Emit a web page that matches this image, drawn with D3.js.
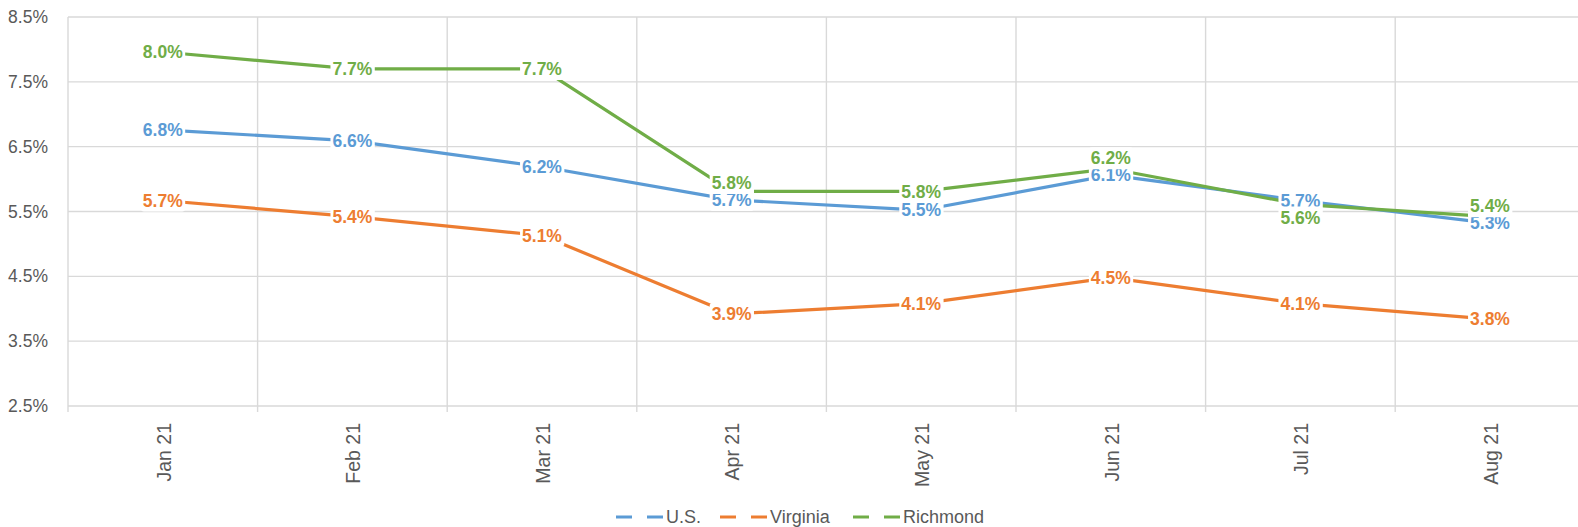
<!DOCTYPE html>
<html>
<head>
<meta charset="utf-8">
<script src="https://cdn.jsdelivr.net/npm/d3@7"></script>
<style>
  html, body { margin: 0; padding: 0; background: #fff; }
  svg { display: block; }
</style>
</head>
<body>
<svg id="chart" width="1578" height="527"></svg>
<script>
const months = ["Jan 21", "Feb 21", "Mar 21", "Apr 21", "May 21", "Jun 21", "Jul 21", "Aug 21"];
const usValues = [6.76, 6.59, 6.19, 5.68, 5.52, 6.06, 5.67, 5.32];
const virginiaValues = [5.67, 5.42, 5.13, 3.92, 4.08, 4.48, 4.08, 3.84];
const richmondValues = [7.96, 7.70, 7.70, 5.81, 5.81, 6.16, 5.61, 5.42];
const seriesNames = ["U.S.", "Virginia", "Richmond"];
const yTicks = [2.5, 3.5, 4.5, 5.5, 6.5, 7.5, 8.5];

(function () {
const colors = ["#5b9bd5", "#ed7d31", "#70ad47"];
const series = [usValues, virginiaValues, richmondValues].map((v, i) => ({ name: seriesNames[i], values: v, color: colors[i] }));

const svg = d3.select("#chart");
const mLeft = 68, mTop = 17, mBottom = 406, step = 189.6;
const x = d3.scaleBand().domain(months).range([mLeft, mLeft + step * months.length]).padding(0);
const y = d3.scaleLinear().domain([2.5, 8.5]).range([mBottom, mTop]);
const font = "'Liberation Sans', Arial, sans-serif";
const grid = "#d9d9d9";

// horizontal grid
svg.append("g").selectAll("line").data(yTicks).join("line")
  .attr("x1", mLeft).attr("x2", 1578)
  .attr("y1", d => y(d)).attr("y2", d => y(d))
  .attr("stroke", grid).attr("stroke-width", 1.4);

// vertical grid at category boundaries (with tick extension)
svg.append("g").selectAll("line").data(months).join("line")
  .attr("x1", d => x(d)).attr("x2", d => x(d))
  .attr("y1", mTop).attr("y2", mBottom + 6)
  .attr("stroke", grid).attr("stroke-width", 1.4);

// y tick labels
svg.append("g").selectAll("text").data(yTicks).join("text")
  .attr("x", 48).attr("y", d => y(d)).attr("dy", "0.35em")
  .attr("text-anchor", "end")
  .attr("font-family", font).attr("font-size", 17.5).attr("fill", "#595959")
  .text(d => d.toFixed(1) + "%");

// x tick labels (rotated)
svg.append("g").selectAll("text").data(months).join("text")
  .attr("transform", d => `translate(${x(d) + x.bandwidth() / 2 + 1},423) rotate(-90)`)
  .attr("dy", "0.35em")
  .attr("text-anchor", "end")
  .attr("font-family", font).attr("font-size", 19.5).attr("fill", "#595959")
  .text(d => d);

// lines
const line = d3.line().x((d, i) => x(months[i]) + x.bandwidth() / 2).y(d => y(d));
svg.append("g").selectAll("path").data(series).join("path")
  .attr("d", s => line(s.values))
  .attr("fill", "none").attr("stroke", s => s.color).attr("stroke-width", 3.2)
  .attr("stroke-linejoin", "round").attr("stroke-linecap", "round");

// data labels: earlier series keep their spot, later ones move away on collision
const labels = [];
const minGap = 17;
months.forEach((m, i) => {
  const placed = [];
  series.forEach(s => {
    const cx = x(m) + x.bandwidth() / 2;
    const py = y(s.values[i]);
    let cy = py;
    placed.forEach(p => {
      if (Math.abs(cy - p.cy) < minGap) {
        cy = py < p.py ? p.cy - minGap : p.cy + minGap;
      }
    });
    const item = { s, v: s.values[i], cx, cy, py };
    placed.push(item);
    labels.push(item);
  });
});

const lg = svg.append("g");
labels.forEach(l => {
  const g = lg.append("g");
  const t = g.append("text")
    .attr("x", l.cx).attr("y", l.cy).attr("dy", "0.35em")
    .attr("text-anchor", "middle")
    .attr("font-family", font).attr("font-size", 17.5).attr("font-weight", "bold")
    .attr("fill", l.s.color)
    .text(l.v.toFixed(1) + "%");
  const bb = t.node().getBBox();
  g.insert("rect", "text")
    .attr("x", bb.x - 2).attr("y", bb.y - 1)
    .attr("width", bb.width + 4).attr("height", bb.height + 2)
    .attr("rx", 3).attr("fill", "#fff");
});

// legend
const legendItems = [
  { name: seriesNames[0], color: colors[0], x: 616 },
  { name: seriesNames[1], color: colors[1], x: 720 },
  { name: seriesNames[2], color: colors[2], x: 853 }
];
const leg = svg.append("g");
legendItems.forEach(it => {
  leg.append("line").attr("x1", it.x).attr("x2", it.x + 16).attr("y1", 517).attr("y2", 517)
    .attr("stroke", it.color).attr("stroke-width", 3);
  leg.append("line").attr("x1", it.x + 31).attr("x2", it.x + 47).attr("y1", 517).attr("y2", 517)
    .attr("stroke", it.color).attr("stroke-width", 3);
  leg.append("text").attr("x", it.x + 50).attr("y", 517).attr("dy", "0.35em")
    .attr("font-family", font).attr("font-size", 18).attr("fill", "#595959")
    .text(it.name);
});
})();
</script>
</body>
</html>
